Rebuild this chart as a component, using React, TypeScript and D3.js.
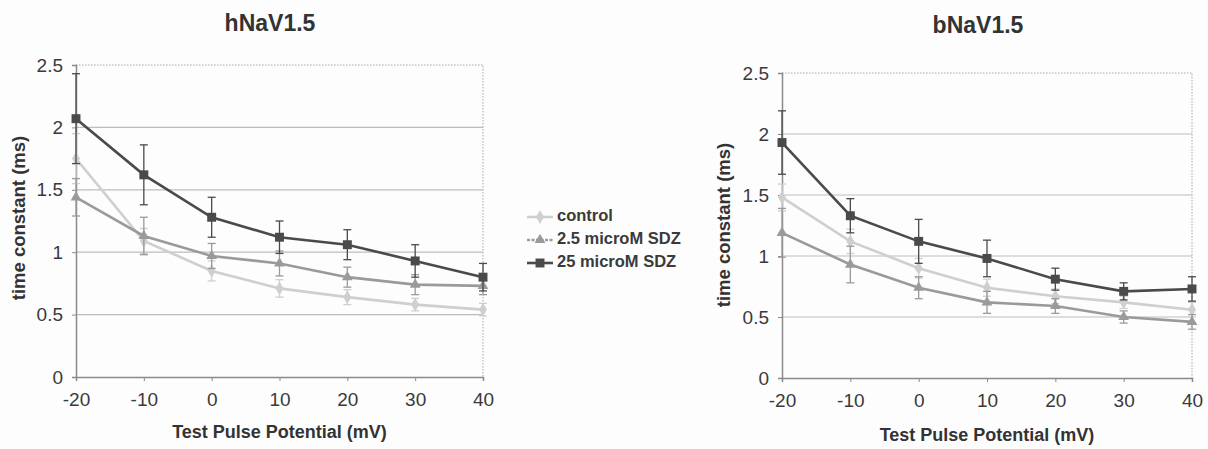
import React, { useRef, useEffect } from "react";
import * as d3 from "d3";

const potentials = [-20, -10, 0, 10, 20, 30, 40];
const yTicks = [0, 0.5, 1, 1.5, 2, 2.5];
const seriesNames = ["control", "2.5 microM SDZ", "25 microM SDZ"];

// hNaV1.5
const hControl = [1.75, 1.09, 0.85, 0.71, 0.64, 0.58, 0.54];
const hControlErr = [0.2, 0.1, 0.08, 0.07, 0.06, 0.05, 0.05];
const hLow = [1.44, 1.13, 0.97, 0.91, 0.8, 0.74, 0.73];
const hLowErr = [0.15, 0.15, 0.1, 0.1, 0.08, 0.08, 0.07];
const hHigh = [2.07, 1.62, 1.28, 1.12, 1.06, 0.93, 0.8];
const hHighErr = [0.36, 0.24, 0.16, 0.13, 0.12, 0.13, 0.11];

// bNaV1.5
const bControl = [1.48, 1.12, 0.9, 0.74, 0.67, 0.62, 0.56];
const bControlErr = [0.11, 0.1, 0.08, 0.07, 0.06, 0.05, 0.06];
const bLow = [1.19, 0.93, 0.74, 0.62, 0.59, 0.5, 0.46];
const bLowErr = [0.2, 0.15, 0.09, 0.09, 0.06, 0.05, 0.06];
const bHigh = [1.93, 1.33, 1.12, 0.98, 0.81, 0.71, 0.73];
const bHighErr = [0.26, 0.14, 0.18, 0.15, 0.09, 0.07, 0.1];

const colors = ["#cfcfcf", "#9a9a9a", "#4a4a4a"];
const font = "'Liberation Sans', Arial, sans-serif";

const App = () => {
  const svgRef = useRef(null);

  useEffect(() => {
    const svg = d3.select(svgRef.current);
    svg.selectAll("*").remove();

    svg.append("rect").attr("width", 1208).attr("height", 449).attr("fill", "#fdfdfd");

    const drawPanel = (opts) => {
      const { title, left, right, top, bottom, titleX, titleY, yLabelX, yLabelY, xLabelY, series } = opts;
      const x = d3.scaleLinear().domain([-20, 40]).range([left, right]);
      const y = d3.scaleLinear().domain([0, 2.5]).range([bottom, top]);
      const g = svg.append("g");

      // grid
      g.selectAll(".grid")
        .data(yTicks.filter((t) => t > 0 && t < 2.5))
        .enter()
        .append("line")
        .attr("x1", left)
        .attr("x2", right)
        .attr("y1", (d) => y(d))
        .attr("y2", (d) => y(d))
        .attr("stroke", "#bdbdbd")
        .attr("stroke-width", 1.2);

      // top and right dotted border
      g.append("path")
        .attr("d", `M${left},${y(2.5)}H${right}V${bottom}`)
        .attr("fill", "none")
        .attr("stroke", "#a8a8a8")
        .attr("stroke-dasharray", "1.5,1.5");

      // axes
      const yAxis = g
        .append("g")
        .attr("transform", `translate(${left},0)`)
        .call(d3.axisLeft(y).tickValues(yTicks).tickSize(4).tickPadding(9).tickFormat((d) => String(d)));
      const xAxis = g
        .append("g")
        .attr("transform", `translate(0,${bottom})`)
        .call(d3.axisBottom(x).tickValues(potentials).tickSize(4).tickPadding(12).tickFormat((d) => String(d)));
      [yAxis, xAxis].forEach((a) => {
        a.attr("font-size", null).attr("font-family", null);
        a.select(".domain").attr("stroke", "#8a8a8a").attr("stroke-width", 1.5);
        a.selectAll(".tick line").attr("stroke", "#8a8a8a");
        a.selectAll("text")
          .attr("fill", "#3a3a3a")
          .style("font-family", font)
          .style("font-size", "19px");
      });

      // series
      series.forEach((s, i) => {
        const line = d3
          .line()
          .x((d, j) => x(potentials[j]))
          .y((d) => y(d));
        const col = colors[i];
        const sg = g.append("g");
        // error bars
        s.values.forEach((v, j) => {
          const cx = x(potentials[j]);
          const e = s.err[j];
          sg.append("line")
            .attr("x1", cx).attr("x2", cx)
            .attr("y1", y(v - e)).attr("y2", y(v + e))
            .attr("stroke", col).attr("stroke-width", 1.3);
          [v - e, v + e].forEach((w) => {
            sg.append("line")
              .attr("x1", cx - 4).attr("x2", cx + 4)
              .attr("y1", y(w)).attr("y2", y(w))
              .attr("stroke", col).attr("stroke-width", 1.3);
          });
        });
        sg.append("path")
          .datum(s.values)
          .attr("d", line)
          .attr("fill", "none")
          .attr("stroke", col)
          .attr("stroke-width", 2.6);
        const sym = [d3.symbolDiamond, d3.symbolTriangle, d3.symbolSquare][i];
        const size = [55, 50, 80][i];
        sg.selectAll(".pt")
          .data(s.values)
          .enter()
          .append("path")
          .attr("transform", (d, j) => `translate(${x(potentials[j])},${y(d)})`)
          .attr("d", d3.symbol().type(sym).size(size))
          .attr("fill", col);
      });

      svg.append("text")
        .attr("x", titleX).attr("y", titleY)
        .attr("text-anchor", "middle").attr("dominant-baseline", "middle")
        .attr("fill", "#333").style("font-family", font)
        .style("font-size", "23px").style("font-weight", "bold")
        .text(title);
      svg.append("text")
        .attr("transform", `translate(${yLabelX},${yLabelY}) rotate(-90)`)
        .attr("text-anchor", "middle").attr("dominant-baseline", "middle")
        .attr("fill", "#333").style("font-family", font)
        .style("font-size", "18.5px").style("font-weight", "bold")
        .text("time constant (ms)");
      svg.append("text")
        .attr("x", (left + right) / 2).attr("y", xLabelY)
        .attr("text-anchor", "middle").attr("dominant-baseline", "middle")
        .attr("fill", "#333").style("font-family", font)
        .style("font-size", "18px").style("font-weight", "bold")
        .text("Test Pulse Potential (mV)");
    };

    drawPanel({
      title: "hNaV1.5", left: 76, right: 483, top: 65, bottom: 377,
      titleX: 270, titleY: 25, yLabelX: 20, yLabelY: 218, xLabelY: 433,
      series: [
        { values: hControl, err: hControlErr },
        { values: hLow, err: hLowErr },
        { values: hHigh, err: hHighErr },
      ],
    });
    drawPanel({
      title: "bNaV1.5", left: 782, right: 1192, top: 73, bottom: 378,
      titleX: 978, titleY: 27, yLabelX: 725, yLabelY: 225, xLabelY: 436,
      series: [
        { values: bControl, err: bControlErr },
        { values: bLow, err: bLowErr },
        { values: bHigh, err: bHighErr },
      ],
    });

    // legend
    const lg = svg.append("g");
    seriesNames.forEach((name, i) => {
      const ly = 217 + i * 23;
      lg.append("line")
        .attr("x1", 527).attr("x2", 553).attr("y1", ly).attr("y2", ly)
        .attr("stroke", colors[i]).attr("stroke-width", 2.6)
        .attr("stroke-dasharray", i === 1 ? "3,1.5" : null);
      lg.append("path")
        .attr("transform", `translate(540,${ly})`)
        .attr("d", d3.symbol().type([d3.symbolDiamond, d3.symbolTriangle, d3.symbolSquare][i]).size([55, 50, 80][i]))
        .attr("fill", colors[i]);
      lg.append("text")
        .attr("x", 557).attr("y", ly)
        .attr("dominant-baseline", "middle")
        .attr("fill", "#3a3a3a").style("font-family", font)
        .style("font-size", "16.5px").style("font-weight", "bold")
        .text(name);
    });
  }, []);

  return (
    <svg
      ref={svgRef}
      width={1208}
      height={449}
      style={{ position: "absolute", left: 0, top: 0 }}
    ></svg>
  );
};

export default App;
